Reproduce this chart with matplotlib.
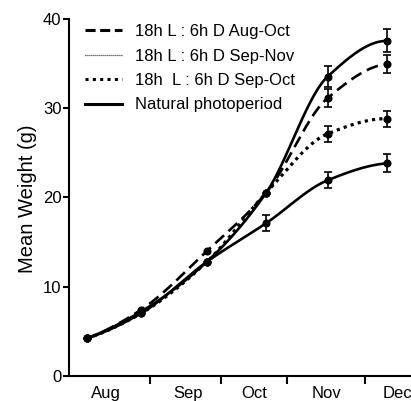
import numpy as np
import matplotlib
matplotlib.use("Agg")
import matplotlib.pyplot as plt
from matplotlib.lines import Line2D

plt.rcParams['font.family'] = ['Liberation Sans', 'DejaVu Sans']

# sampling days (days since 1 Aug)
days = [4, 27, 55, 80, 106, 131]
sep_nov = [4.2, 7.2, 12.8, 20.5, 33.5, 37.5]
aug_oct = [4.2, 7.4, 14.0, 20.5, 31.1, 34.9]
sep_oct = [4.2, 7.0, 12.8, 20.5, 27.1, 28.8]
natural = [4.2, 7.0, 12.8, 17.1, 21.9, 23.8]

err_sep_nov = [0, 0, 0, 0, 1.2, 1.3]
err_aug_oct = [0, 0, 0, 0, 1.0, 1.0]
err_sep_oct = [0, 0, 0, 0, 0.9, 0.9]
err_natural = [0, 0, 0, 0.9, 0.9, 1.0]

month_bounds = [31, 61, 89, 122]
month_labels = ['Aug', 'Sep', 'Oct', 'Nov', 'Dec']
month_label_pos = [12, 47, 75, 105.5, 135.5]

labels = ['18h L : 6h D Aug-Oct', '18h L : 6h D Sep-Nov',
          '18h  L : 6h D Sep-Oct', 'Natural photoperiod']


def pchip(x, y, xs):
    x = np.asarray(x, float); y = np.asarray(y, float)
    h = np.diff(x); d = np.diff(y) / h
    n = len(x); m = np.zeros(n)
    for k in range(1, n - 1):
        if d[k - 1] * d[k] > 0:
            w1 = 2 * h[k] + h[k - 1]; w2 = h[k] + 2 * h[k - 1]
            m[k] = (w1 + w2) / (w1 / d[k - 1] + w2 / d[k])
    m[0] = ((2 * h[0] + h[1]) * d[0] - h[0] * d[1]) / (h[0] + h[1])
    if m[0] * d[0] <= 0: m[0] = 0
    m[-1] = ((2 * h[-1] + h[-2]) * d[-1] - h[-1] * d[-2]) / (h[-1] + h[-2])
    if m[-1] * d[-1] <= 0: m[-1] = 0
    idx = np.clip(np.searchsorted(x, xs) - 1, 0, n - 2)
    t = (xs - x[idx]) / h[idx]
    h00 = 2 * t**3 - 3 * t**2 + 1; h10 = t**3 - 2 * t**2 + t
    h01 = -2 * t**3 + 3 * t**2; h11 = t**3 - t**2
    return h00 * y[idx] + h10 * h[idx] * m[idx] + h01 * y[idx + 1] + h11 * h[idx] * m[idx + 1]


fig = plt.figure(figsize=(4.11, 4.01), dpi=100)
ax = fig.add_axes([0.168, 0.0623, 0.832, 0.8915])
ax.set_xlim(-3.4, 141.3)
ax.set_ylim(0, 40)

xs = np.linspace(days[0], days[-1], 400)
series = [
    (sep_nov, err_sep_nov, '-', 1.9),
    (aug_oct, err_aug_oct, (0, (4.5, 2.3)), 1.9),
    (sep_oct, err_sep_oct, (0, (1.0, 1.3)), 2.3),
    (natural, err_natural, '-', 1.9),
]
for vals, errs, ls, lw in series:
    ax.plot(xs, pchip(days, vals, xs), color='black', lw=lw, linestyle=ls,
            dash_capstyle='butt')
    ax.plot(days, vals, 'o', color='black', ms=4.8)
    e = np.array(errs)
    sel = e > 0
    ax.errorbar(np.array(days)[sel], np.array(vals)[sel], yerr=e[sel], fmt='none',
                ecolor='black', elinewidth=1.2, capsize=2.8, capthick=1.2)

handles = [
    Line2D([], [], color='black', lw=2.2, linestyle=(0, (3.3, 1.5))),
    Line2D([], [], color='black', lw=0.9, linestyle=(0, (0.7, 0.9))),
    Line2D([], [], color='black', lw=2.2, linestyle=(0, (1.0, 1.4))),
    Line2D([], [], color='black', lw=2.2, linestyle='-'),
]
ax.legend(handles, labels, loc='upper left',
          bbox_to_anchor=(85 / 411, 1 - 24 / 401), bbox_transform=fig.transFigure,
          frameon=False, fontsize=12, handlelength=2.2, handletextpad=0.8,
          labelspacing=0.57, borderaxespad=0, borderpad=0)

for s in ['top', 'right']:
    ax.spines[s].set_visible(False)
ax.spines['left'].set_bounds(0, 40)
for s in ['left', 'bottom']:
    ax.spines[s].set_linewidth(1.5)

ax.set_yticks([0, 10, 20, 30, 40])
ax.tick_params(axis='y', length=4.5, width=1.5, labelsize=12, pad=1)
ax.set_xticks(month_bounds)
ax.set_xticklabels([])
ax.tick_params(axis='x', which='major', length=5.8, width=1.5)
ax.set_xticks(month_label_pos, minor=True)
ax.set_xticklabels(month_labels, minor=True)
ax.tick_params(axis='x', which='minor', length=0, labelsize=12, pad=7.5)
ax.set_ylabel('Mean Weight (g)', fontsize=14.5)
ax.yaxis.set_label_coords(37 / 411, (401 - 199) / 401, transform=fig.transFigure)

fig.savefig('out.png', dpi=100)
